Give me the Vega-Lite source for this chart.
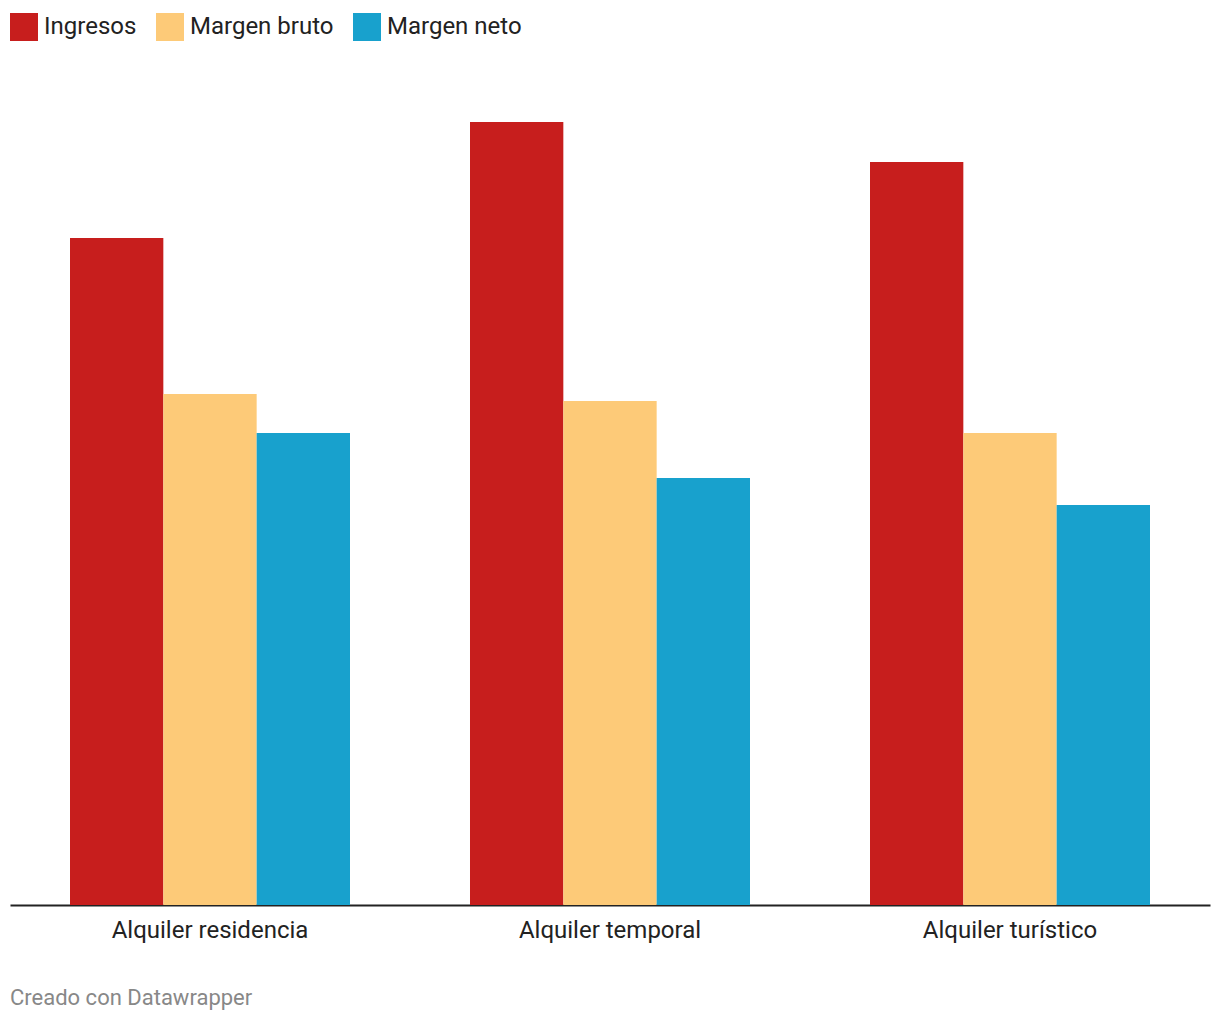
{
  "$schema": "https://vega.github.io/schema/vega-lite/v6.json",
  "autosize": {"type": "none"},
  "width": 1200,
  "height": 825,
  "padding": {"left": 10, "top": 80, "right": 10, "bottom": 115},
  "background": "white",
  "config": {
    "font": "Roboto",
    "view": {"stroke": null}
  },
  "title": {
    "text": "Creado con Datawrapper",
    "orient": "bottom",
    "anchor": "start",
    "frame": "group",
    "fontSize": 22,
    "fontWeight": "normal",
    "color": "#888888",
    "offset": 46
  },
  "data": {
    "values": [
      {"tipo": "Alquiler residencia", "serie": "Ingresos", "valor": 667},
      {"tipo": "Alquiler residencia", "serie": "Margen bruto", "valor": 511},
      {"tipo": "Alquiler residencia", "serie": "Margen neto", "valor": 472},
      {"tipo": "Alquiler temporal", "serie": "Ingresos", "valor": 783},
      {"tipo": "Alquiler temporal", "serie": "Margen bruto", "valor": 504},
      {"tipo": "Alquiler temporal", "serie": "Margen neto", "valor": 427},
      {"tipo": "Alquiler turístico", "serie": "Ingresos", "valor": 743},
      {"tipo": "Alquiler turístico", "serie": "Margen bruto", "valor": 472},
      {"tipo": "Alquiler turístico", "serie": "Margen neto", "valor": 400}
    ]
  },
  "mark": {"type": "bar"},
  "encoding": {
    "x": {
      "field": "tipo",
      "type": "nominal",
      "sort": null,
      "scale": {"paddingInner": 0.3, "paddingOuter": 0.15},
      "axis": {
        "title": null,
        "labelAngle": 0,
        "labelFontSize": 24,
        "labelLimit": 0,
        "labelColor": "#222222",
        "labelPadding": 13,
        "ticks": false,
        "domainColor": "#222222",
        "domainWidth": 2
      }
    },
    "xOffset": {"field": "serie", "type": "nominal", "sort": null, "scale": {"paddingInner": 0, "paddingOuter": 0}},
    "y": {
      "field": "valor",
      "type": "quantitative",
      "scale": {"domain": [0, 825], "nice": false},
      "axis": null
    },
    "color": {
      "field": "serie",
      "type": "nominal",
      "sort": null,
      "scale": {
        "domain": ["Ingresos", "Margen bruto", "Margen neto"],
        "range": ["#c71e1d", "#fdca78", "#18a1cd"]
      },
      "legend": {
        "title": null,
        "orient": "none",
        "legendX": 0,
        "legendY": -67,
        "direction": "horizontal",
        "symbolType": "square",
        "symbolSize": 784,
        "symbolStrokeWidth": 0,
        "symbolOpacity": 1,
        "labelFontSize": 24,
        "labelLimit": 0,
        "labelColor": "#222222",
        "labelOffset": 6,
        "columnPadding": 19
      }
    }
  }
}
